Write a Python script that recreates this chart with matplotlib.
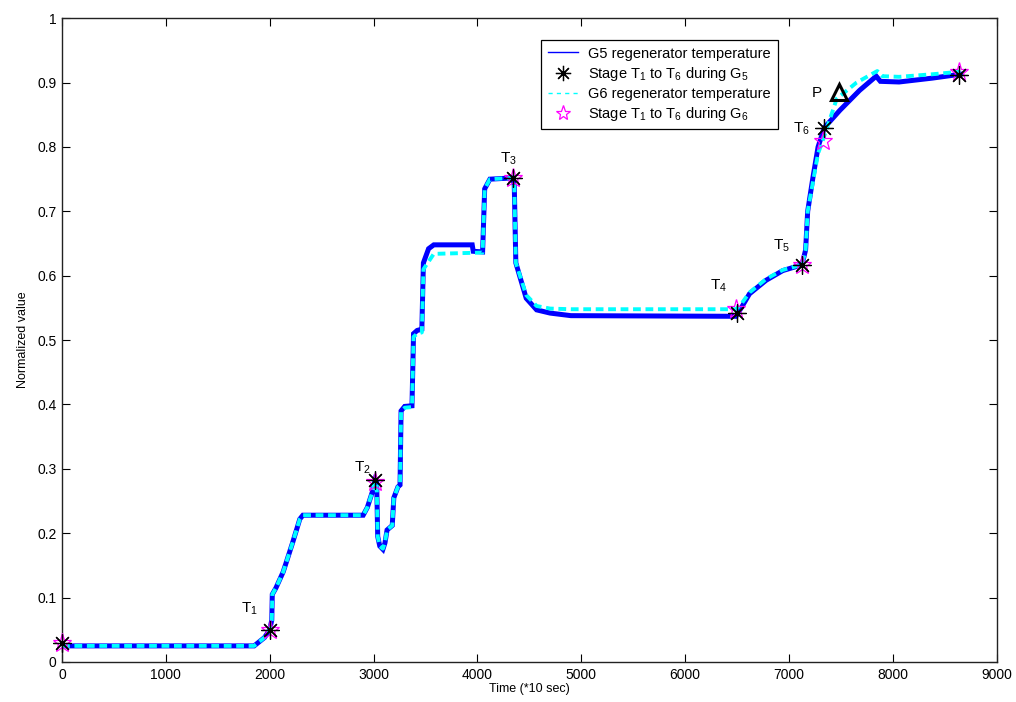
import matplotlib
matplotlib.use('Agg')
import matplotlib.pyplot as plt
from matplotlib.lines import Line2D

plt.rcParams['font.family'] = ['Liberation Sans', 'DejaVu Sans']
plt.rcParams['mathtext.default'] = 'regular'

# G5 regenerator temperature (normalized), breakpoints of the trace
g5_time = [0, 1850, 1950, 2000, 2020, 2025, 2060, 2130, 2220, 2290, 2320, 2900, 2940,
           2990, 3015, 3030, 3040, 3060, 3090, 3110, 3130, 3180, 3195, 3235, 3255,
           3265, 3300, 3370, 3385, 3420, 3465, 3480, 3530, 3580, 3950, 3960, 4050,
           4070, 4120, 4340, 4355, 4370, 4410, 4470, 4570, 4700, 4900, 6490, 6540,
           6620, 6780, 6940, 7125, 7160, 7180, 7230, 7280, 7340, 7490, 7680, 7840,
           7880, 8060, 8380, 8650]
g5_value = [0.025, 0.025, 0.038, 0.05, 0.065, 0.105, 0.115, 0.14, 0.185, 0.222, 0.228, 0.228, 0.24,
            0.265, 0.283, 0.28, 0.195, 0.18, 0.175, 0.185, 0.205, 0.212, 0.255, 0.272, 0.275,
            0.39, 0.397, 0.398, 0.51, 0.515, 0.517, 0.62, 0.642, 0.648, 0.648, 0.638, 0.637,
            0.735, 0.75, 0.752, 0.74, 0.62, 0.598, 0.565, 0.547, 0.542, 0.538, 0.537, 0.55,
            0.572, 0.593, 0.608, 0.617, 0.64, 0.70, 0.752, 0.80, 0.83, 0.857, 0.888, 0.91,
            0.902, 0.901, 0.907, 0.913]

# G6 regenerator temperature (normalized)
g6_time = [0, 1850, 1950, 2000, 2020, 2025, 2060, 2130, 2220, 2290, 2320, 2900, 2940,
           2990, 3010, 3030, 3040, 3060, 3090, 3110, 3130, 3180, 3195, 3235, 3255,
           3265, 3300, 3370, 3385, 3420, 3465, 3480, 3530, 3580, 4050,
           4070, 4120, 4340, 4355, 4370, 4410, 4470, 4570, 4700, 4900, 6490, 6540,
           6620, 6780, 6940, 7125, 7160, 7180, 7230, 7280, 7325, 7460, 7650, 7850,
           7900, 8060, 8380, 8650]
g6_value = [0.025, 0.025, 0.038, 0.05, 0.065, 0.105, 0.115, 0.14, 0.185, 0.222, 0.228, 0.228, 0.24,
            0.265, 0.28, 0.278, 0.195, 0.18, 0.176, 0.186, 0.205, 0.212, 0.255, 0.272, 0.275,
            0.39, 0.395, 0.396, 0.505, 0.51, 0.512, 0.61, 0.622, 0.634, 0.636,
            0.735, 0.75, 0.752, 0.74, 0.62, 0.6, 0.57, 0.553, 0.549, 0.548, 0.548, 0.556,
            0.574, 0.595, 0.609, 0.617, 0.64, 0.70, 0.745, 0.79, 0.81, 0.875, 0.9, 0.918,
            0.91, 0.909, 0.913, 0.917]

# Stage points T1..T6 (plus start and end)
g5_stage_time = [0, 2000, 3015, 4340, 6495, 7125, 7340, 8640]
g5_stage_value = [0.03, 0.05, 0.283, 0.752, 0.542, 0.617, 0.83, 0.912]
g6_stage_time = [0, 2000, 3010, 4340, 6490, 7125, 7325, 8640]
g6_stage_value = [0.03, 0.05, 0.28, 0.752, 0.548, 0.617, 0.81, 0.917]

stage_labels = ['T$_1$', 'T$_2$', 'T$_3$', 'T$_4$', 'T$_5$', 'T$_6$']
stage_label_time = [1720, 2810, 4216, 6237, 6843, 7035]
stage_label_value = [0.076, 0.295, 0.775, 0.578, 0.64, 0.823]

peak_time = 7478
peak_value = 0.885

x_ticks = [0, 1000, 2000, 3000, 4000, 5000, 6000, 7000, 8000, 9000]
y_ticks = [0, 0.1, 0.2, 0.3, 0.4, 0.5, 0.6, 0.7, 0.8, 0.9, 1]
y_tick_labels = ['0', '0.1', '0.2', '0.3', '0.4', '0.5', '0.6', '0.7', '0.8', '0.9', '1']

fig = plt.figure(figsize=(10.16, 7.02), dpi=100)
ax = fig.add_axes([0.061, 0.057, 0.92, 0.917])

ax.plot(g5_time, g5_value, color=(0, 0, 1), linewidth=3.6, solid_joinstyle='miter')
ax.plot(g5_stage_time, g5_stage_value, linestyle='none', marker=(8, 2, 0),
        markersize=13, markeredgecolor='black', markeredgewidth=0.9, clip_on=False, zorder=4)
ax.plot(g6_time, g6_value, color=(0, 1, 1), linewidth=2.8, linestyle=(0, (2, 1.2)))
ax.plot(g6_stage_time, g6_stage_value, linestyle='none', marker='*', markersize=14,
        markerfacecolor='none', markeredgecolor=(1, 0, 1), markeredgewidth=0.9,
        clip_on=False, zorder=3)

for lab, tx, ty in zip(stage_labels, stage_label_time, stage_label_value):
    ax.text(tx, ty, lab, fontsize=11, ha='left', va='baseline')

ax.plot([peak_time], [peak_value], linestyle='none', marker='^', markersize=11,
        markerfacecolor='none', markeredgecolor='black', markeredgewidth=2.2, zorder=5)
ax.text(7218, 0.877, 'P', fontsize=11, ha='left', va='baseline')

ax.set_xlim(0, 9000)
ax.set_ylim(0, 1)
ax.set_xticks(x_ticks)
ax.set_xticklabels([str(t) for t in x_ticks])
ax.set_yticks(y_ticks)
ax.set_yticklabels(y_tick_labels)
ax.tick_params(direction='in', length=6, width=0.8, top=True, right=True,
               labelsize=10, pad=4)
for sp in ax.spines.values():
    sp.set_linewidth(1.0)
    sp.set_color('#222222')

ax.set_xlabel('Time (*10 sec)', fontsize=9, labelpad=1)
ax.set_ylabel('Normalized value', fontsize=9, labelpad=6)

handles = [
    Line2D([], [], color=(0, 0, 1), linewidth=1.0),
    Line2D([], [], linestyle='none', marker=(8, 2, 0), markersize=11,
           markeredgecolor='black', markeredgewidth=0.9),
    Line2D([], [], color=(0, 1, 1), linewidth=1.0, linestyle=(0, (3, 3))),
    Line2D([], [], linestyle='none', marker='*', markersize=11, markerfacecolor='none',
           markeredgecolor=(1, 0, 1), markeredgewidth=0.9),
]
labels = ['G5 regenerator temperature', 'Stage T$_1$ to T$_6$ during G$_5$',
          'G6 regenerator temperature', 'Stage T$_1$ to T$_6$ during G$_6$']
leg = ax.legend(handles, labels, loc='upper left', bbox_to_anchor=(0.5325, 0.943),
                bbox_transform=fig.transFigure, fontsize=10.5, fancybox=False,
                framealpha=1, edgecolor='black', borderpad=0.45, labelspacing=0.28,
                handlelength=2.1, handletextpad=0.7, borderaxespad=0)
leg.get_frame().set_linewidth(0.9)

fig.savefig('out.png', dpi=100)
